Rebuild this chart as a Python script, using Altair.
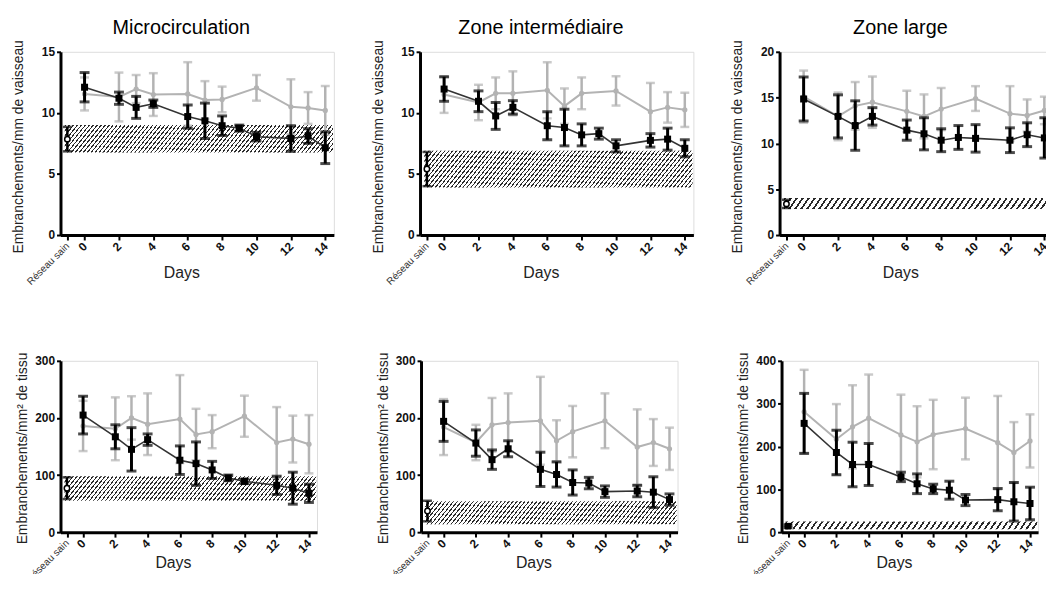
import altair as alt
import pandas as pd

# ---------------- data ----------------
DAYS_BLACK = [0, 2, 3, 4, 6, 7, 8, 9, 10, 12, 13, 14]
DAYS_GRAY = [0, 2, 3, 4, 6, 7, 8, 10, 12, 13, 14]
X_TICKS = [-1, 0, 2, 4, 6, 8, 10, 12, 14]
SAIN_X = -1
BAND_X = [-1.15, 14.45]

titles = ["Microcirculation", "Zone intermédiaire", "Zone large", "", "", ""]
ytitle_top = "Embranchements/mm de vaisseau"
ytitle_bottom = "Embranchements/mm² de tissu"

# Microcirculation (mm de vaisseau)
micro_black = [12.1, 11.2, 10.45, 10.75, 9.7, 9.35, 8.95, 8.75, 8.05, 7.9, 8.1, 7.15]
micro_black_err = [1.2, 0.5, 0.9, 0.3, 0.95, 1.45, 0.8, 0.25, 0.35, 1.05, 0.6, 1.3]
micro_gray = [11.55, 11.3, 11.95, 11.5, 11.55, 11.05, 11.1, 12.05, 10.5, 10.4, 10.2]
micro_gray_err = [1.35, 2.0, 1.15, 1.75, 2.6, 1.55, 1.05, 1.05, 2.25, 1.3, 2.0]
micro_sain = [7.85, 1.0]
micro_band = [6.75, 9.0]

# Zone intermédiaire (mm de vaisseau)
inter_black = [11.95, 10.95, 9.75, 10.45, 8.95, 8.8, 8.2, 8.3, 7.3, 7.75, 7.85, 7.1]
inter_black_err = [1.0, 0.85, 1.1, 0.55, 1.15, 1.5, 0.9, 0.45, 0.5, 0.55, 0.9, 0.7]
inter_gray = [11.5, 10.85, 11.6, 11.6, 11.85, 10.55, 11.6, 11.8, 10.1, 10.45, 10.25]
inter_gray_err = [1.5, 1.45, 1.3, 1.8, 2.3, 1.45, 1.3, 1.2, 2.35, 1.25, 1.4]
inter_sain = [5.4, 1.4]
inter_band = [3.9, 6.9]

# Zone large (mm de vaisseau)
large_black = [14.85, 12.95, 11.95, 12.95, 11.45, 11.05, 10.35, 10.65, 10.55, 10.35, 10.95, 10.6]
large_black_err = [2.4, 2.35, 2.7, 0.95, 1.1, 1.75, 1.25, 1.3, 1.5, 1.35, 1.3, 2.2]
large_gray = [15.1, 12.95, 14.1, 14.5, 13.5, 12.95, 13.75, 14.9, 13.25, 13.05, 13.6]
large_gray_err = [2.85, 2.6, 2.6, 2.8, 2.25, 2.4, 2.3, 1.35, 3.0, 1.75, 1.5]
large_sain = [3.4, 0.45]
large_band = [2.85, 4.05]

# Microcirculation (mm² de tissu)
micro2_black = [205, 167, 145, 162, 126, 120, 109, 95, 89, 82, 77, 68]
micro2_black_err = [33, 21, 38, 10, 25, 38, 15, 5, 4, 16, 28, 16]
micro2_gray = [186, 181, 200, 189, 198, 171, 176, 203, 157, 163, 154]
micro2_gray_err = [44, 55, 38, 54, 77, 45, 29, 36, 62, 41, 51]
micro2_sain = [77, 19]
micro2_band = [55, 98]

# Zone intermédiaire (mm² de tissu)
inter2_black = [194, 156, 127, 146, 110, 101, 87, 86, 71, 72, 70, 57]
inter2_black_err = [35, 23, 17, 14, 30, 22, 22, 10, 10, 10, 27, 10]
inter2_gray = [184, 157, 188, 192, 195, 160, 176, 195, 149, 157, 146]
inter2_gray_err = [49, 31, 47, 51, 77, 36, 45, 48, 66, 41, 37]
inter2_sain = [37, 18]
inter2_band = [14, 54]

# Zone large (mm² de tissu)
large2_black = [254, 186, 158, 158, 129, 113, 101, 98, 75, 76, 71, 67]
large2_black_err = [70, 52, 52, 49, 11, 23, 11, 21, 13, 26, 45, 38]
large2_gray = [281, 217, 246, 266, 227, 211, 228, 242, 209, 186, 213]
large2_gray_err = [98, 82, 97, 102, 94, 83, 81, 72, 109, 71, 62]
large2_sain = [14, 3]
large2_band = [7, 25]

# ---------------- styling ----------------
FONT = "Liberation Sans"
XDOM = [-1.4, 14.5]
GRAY = "#b3b3b3"
INK = "#111111"


def hatch(w_px, h_px, period, slant=0.8, frac=0.34, color="#2a2a2a"):
    # stripes along lines x + slant*y = const (pixel space), i.e. "/" lines
    k = (w_px + slant * h_px) / (w_px ** 2 + (slant * h_px) ** 2)
    n = max(1, int(round((w_px + slant * h_px) / period)))
    stops = []
    for i in range(n):
        a = i / n
        b = (i + frac) / n
        c = (i + 1) / n
        stops += [
            alt.GradientStop(offset=round(a, 6), color=color),
            alt.GradientStop(offset=round(b, 6), color=color),
            alt.GradientStop(offset=round(b, 6), color="white"),
            alt.GradientStop(offset=round(c, 6), color="white"),
        ]
    return alt.LinearGradient(gradient="linear", stops=stops, x1=0, y1=0,
                              x2=w_px * k, y2=slant * h_px * k)


def make_panel(cfg):
    W, H = cfg["w"], cfg["h"]
    ymax = cfg["ymax"]

    xaxis = alt.Axis(
        values=X_TICKS, grid=False, labelAngle=-45, labelOverlap=False,
        labelExpr="datum.value == -1 ? 'Réseau sain' : datum.label",
        labelFontWeight={"condition": {"test": "datum.value == -1", "value": "normal"}, "value": "bold"},
        labelFontSize={"condition": {"test": "datum.value == -1", "value": 10}, "value": 12},
        labelColor={"condition": {"test": "datum.value == -1", "value": "#333333"}, "value": INK},
        labelAlign="right", labelBaseline="middle", labelPadding=4, labelFont=FONT,
        domainWidth=3, domainColor="black", tickWidth=2, tickSize=5, tickColor="black",
        title="Days", titleFont=FONT, titleFontSize=16, titleFontWeight="normal", titleColor="#222222",
        titleX=W / 2 - 16, titleY=cfg["dy"], titleBaseline="middle", titleAlign="center",
    )
    yaxis = alt.Axis(
        values=cfg["yticks"], grid=False, labelFontWeight="bold", labelFontSize=12,
        labelColor=INK, labelFont=FONT, labelPadding=2,
        domainWidth=3, domainColor="black", tickWidth=2, tickSize=4, tickColor="black",
        title=cfg["ytitle"], titleFont=FONT, titleFontSize=14, titleFontWeight="normal",
        titleColor="#222222", titleX=cfg["ytx"], titleY=H / 2 + cfg["yty"], titleAngle=-90,
        titleBaseline="middle", titleAlign="center",
    )
    xs = alt.Scale(domain=XDOM, nice=False, zero=False)
    ys = alt.Scale(domain=[0, ymax], nice=False, zero=True)

    def X(field="day"):
        return alt.X(field=field, type="quantitative", scale=xs, axis=xaxis)

    def Y(field="v"):
        return alt.Y(field=field, type="quantitative", scale=ys, axis=yaxis)

    lo, hi = cfg["band"]
    band_df = pd.DataFrame({"day": [BAND_X[0]], "day2": [BAND_X[1]], "v": [lo], "v2": [hi]})
    w_px = (BAND_X[1] - BAND_X[0]) / (XDOM[1] - XDOM[0]) * W
    h_px = (hi - lo) / ymax * H
    band = alt.Chart(band_df).mark_rect(
        color=hatch(w_px, h_px, cfg["period"], slant=cfg["slant"], frac=cfg["frac"])).encode(
        x=X(), x2=alt.X2(field="day2"), y=Y(), y2=alt.Y2(field="v2"))

    def series(days, means, errs, color, ew, cap, line_w, line_color, shape, size, filled, stroke_w):
        df = pd.DataFrame({"day": days, "v": means})
        df["lo"] = [m - e for m, e in zip(means, errs)]
        df["hi"] = [m + e for m, e in zip(means, errs)]
        base = alt.Chart(df)
        rule = base.mark_rule(color=color, strokeWidth=ew).encode(x=X(), y=Y("lo"), y2=alt.Y2(field="hi"))
        cap_lo = base.mark_tick(color=color, orient="horizontal", size=cap, thickness=ew).encode(x=X(), y=Y("lo"))
        cap_hi = base.mark_tick(color=color, orient="horizontal", size=cap, thickness=ew).encode(x=X(), y=Y("hi"))
        layers = [rule, cap_lo, cap_hi]
        if line_w:
            layers.append(base.mark_line(color=line_color, strokeWidth=line_w).encode(x=X(), y=Y()))
        if filled:
            pts = base.mark_point(shape=shape, size=size, filled=True, color=color, opacity=1).encode(x=X(), y=Y())
        else:
            pts = base.mark_point(shape=shape, size=size, filled=True, fill="white", stroke=color,
                                  strokeWidth=stroke_w, opacity=1).encode(x=X(), y=Y())
        layers.append(pts)
        return layers

    gray_layers = series(DAYS_GRAY, cfg["gray"], cfg["gray_err"], GRAY, 2.5, 9, 2, GRAY, "circle", 28, True, 1)
    black_layers = series(DAYS_BLACK, cfg["black"], cfg["black_err"], "black", 3, 10, 1.6, "#333333",
                          "square", 50, True, 1)
    sm, se = cfg["sain"]
    if cfg["sain_filled"]:
        sain_layers = series([SAIN_X], [sm], [se], "black", 3, 9, 0, None, "square", 45, True, 1.5)
    else:
        sain_layers = series([SAIN_X], [sm], [se], "black", 2.5, 9, 0, None, "circle", 30, False, 1.5)

    ch = alt.layer(band, *gray_layers, *black_layers, *sain_layers).properties(width=W, height=H)
    if cfg["title"]:
        ch = ch.properties(title=alt.TitleParams(cfg["title"], font=FONT, fontSize=20, fontWeight="normal",
                                                 color="black", dx=-16, offset=1.5, anchor="middle"))
    return ch


TOP_W, TOP_H = 276, 185
BOT_W, BOT_H = 259, 173

cfgs = [
    dict(title=titles[0], ytitle=ytitle_top, ymax=15, yticks=[0, 5, 10, 15], black=micro_black,
         black_err=micro_black_err, gray=micro_gray, gray_err=micro_gray_err, sain=micro_sain,
         band=micro_band, period=4, slant=0.8, frac=0.33, sain_filled=False),
    dict(title=titles[1], ytitle=ytitle_top, ymax=15, yticks=[0, 5, 10, 15], black=inter_black,
         black_err=inter_black_err, gray=inter_gray, gray_err=inter_gray_err, sain=inter_sain,
         band=inter_band, period=4, slant=0.8, frac=0.33, sain_filled=False),
    dict(title=titles[2], ytitle=ytitle_top, ymax=20, yticks=[0, 5, 10, 15, 20], black=large_black,
         black_err=large_black_err, gray=large_gray, gray_err=large_gray_err, sain=large_sain,
         band=large_band, period=6, slant=0.7, frac=0.35, sain_filled=False),
    dict(title=titles[3], ytitle=ytitle_bottom, ymax=300, yticks=[0, 100, 200, 300], black=micro2_black,
         black_err=micro2_black_err, gray=micro2_gray, gray_err=micro2_gray_err, sain=micro2_sain,
         band=micro2_band, period=4, slant=0.8, frac=0.33, sain_filled=False),
    dict(title=titles[4], ytitle=ytitle_bottom, ymax=300, yticks=[0, 100, 200, 300], black=inter2_black,
         black_err=inter2_black_err, gray=inter2_gray, gray_err=inter2_gray_err, sain=inter2_sain,
         band=inter2_band, period=4, slant=0.8, frac=0.33, sain_filled=False),
    dict(title=titles[5], ytitle=ytitle_bottom, ymax=400, yticks=[0, 100, 200, 300, 400], black=large2_black,
         black_err=large2_black_err, gray=large2_gray, gray_err=large2_gray_err, sain=large2_sain,
         band=large2_band, period=6, slant=0.7, frac=0.35, sain_filled=True),
]
for i, c in enumerate(cfgs):
    if i < 3:
        c.update(w=TOP_W, h=TOP_H, ytx=-42, yty=3, dy=38)
    else:
        c.update(w=BOT_W, h=BOT_H, ytx=-38, yty=1.5, dy=31)

panels = [make_panel(c) for c in cfgs]
row1 = alt.hconcat(*panels[:3], spacing=36)
row2 = alt.hconcat(*panels[3:], spacing=58)

chart = alt.vconcat(row1, row2, spacing=64).properties(
    padding={"left": 3, "top": 6.5, "right": -8, "bottom": -14}
).configure_view(stroke=None).configure(font=FONT, background="white")

chart.save("out.html", embed_options={"renderer": "svg", "actions": False})
